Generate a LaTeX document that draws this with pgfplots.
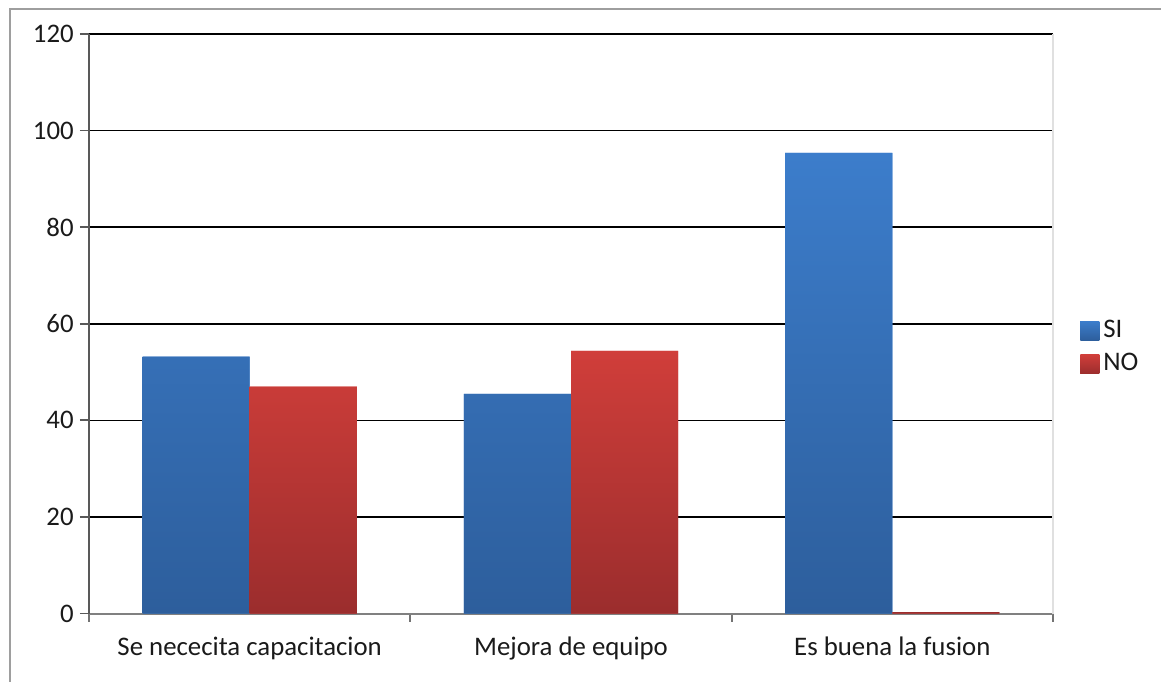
\documentclass[border=0pt]{standalone}
\usepackage{pgfplots}
\pgfplotsset{compat=1.18}
\usepackage{fontspec}
\setmainfont{Carlito}
\definecolor{siTop}{HTML}{3C7DCB}
\definecolor{siBot}{HTML}{2D5E9C}
\definecolor{noTop}{HTML}{D03E3A}
\definecolor{noBot}{HTML}{9B2D2D}
\definecolor{txt}{HTML}{1A1A1A}
\begin{document}
\fontsize{13.4}{16}\selectfont
\begin{tikzpicture}
\useasboundingbox (-44.5pt,-33.75pt) rectangle (536pt,306.75pt);
\draw[color=black!38, line width=0.8pt] (-39.5pt,-40pt) -- (-39.5pt,302.25pt) -- (540pt,302.25pt);
\begin{axis}[
    at={(0,0)}, anchor=south west,
    scale only axis,
    width=482pt, height=289.75pt,
    ybar=0pt,
    bar width=0.3333,
    xmin=-0.5, xmax=2.5,
    ymin=0, ymax=120,
    ytick={0,20,...,120},
    xtick={0,1,2},
    xticklabels={Se nececita capacitacion, Mejora de equipo, Es buena la fusion},
    minor xtick={-0.5,0.5,1.5,2.5},
    major x tick style={draw=none},
    minor x tick style={black!55, line width=0.9pt},
    minor tick length=4pt,
    y tick style={black!65, line width=0.9pt},
    major tick length=4.5pt,
    tick align=outside,
    ymajorgrids=true,
    grid style={black, line width=0.75pt},
    axis x line*=bottom,
    axis y line*=left,
    x axis line style={black!50, line width=1pt, -},
    y axis line style={black!65, line width=1pt, -},
    tick label style={font=\fontsize{13.4}{16}\selectfont, text=txt},
    yticklabel style={xshift=1.5pt},
    xticklabel style={yshift=-2.5pt},
    /pgf/number format/assume math mode=true,
    legend style={draw=none, at={(1.028,0.459)}, anchor=west,
        font=\fontsize{13.4}{16}\selectfont, text=txt,
        row sep=2pt, inner sep=0pt},
    legend cell align=left,
    legend image code/.code={\fill[#1] (0pt,-4.75pt) rectangle (9.5pt,4.75pt);},
    clip=false,
]
\draw[black!12, line width=0.8pt] (rel axis cs:1,0) -- (rel axis cs:1,1);
\addplot[draw=none, top color=siTop, bottom color=siBot, fill=siTop] coordinates {
    (0,53.2) (1,45.5) (2,95.4)
};
\addplot[draw=none, top color=noTop, bottom color=noBot, fill=noTop] coordinates {
    (0,47.0) (1,54.4) (2,0.3)
};
\legend{SI, NO}
\end{axis}
\end{tikzpicture}
\end{document}
